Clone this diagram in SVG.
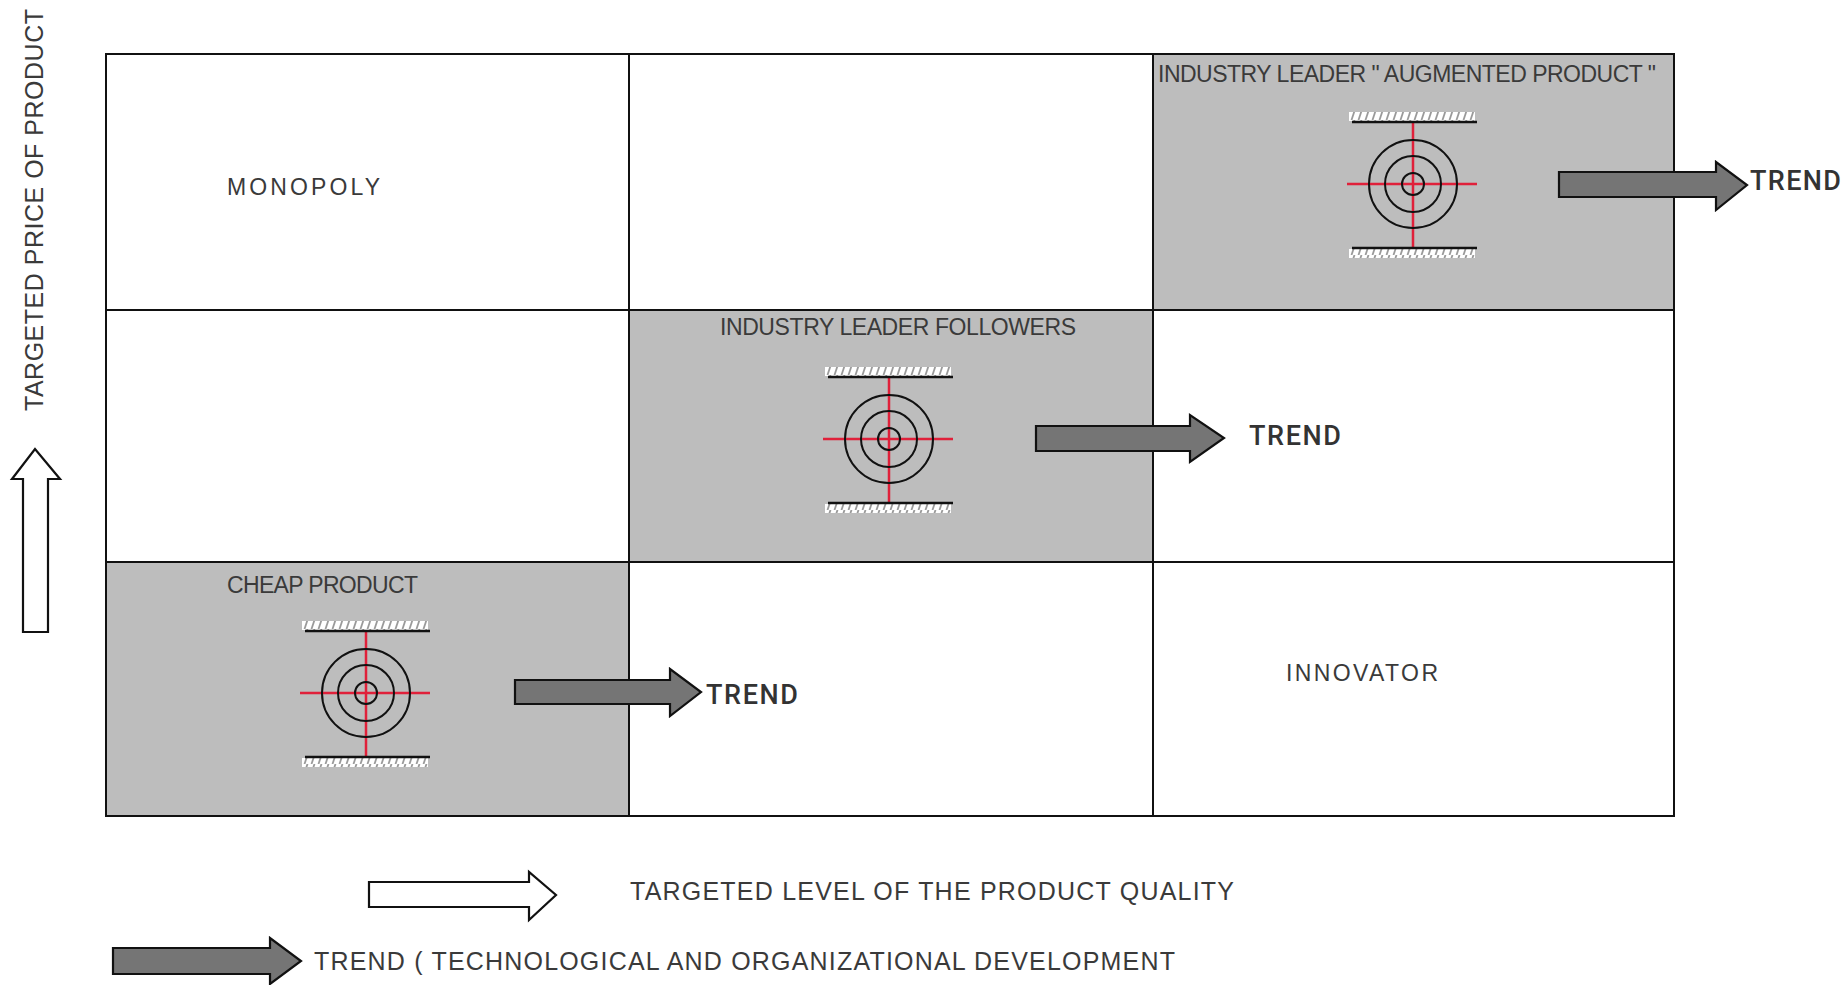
<svg xmlns="http://www.w3.org/2000/svg" xmlns:xlink="http://www.w3.org/1999/xlink" width="1843" height="985" viewBox="0 0 1843 985">
<style>
.cell{fill:#fff;stroke:#111;stroke-width:2}
.shade{fill:#bdbdbd}
.t{font-family:"Liberation Sans",Arial,sans-serif;font-size:23px;fill:#3a3a3a}
.tr{font-family:"Roboto","Liberation Sans",sans-serif;font-size:27px;font-weight:500;fill:#333}
.lg{font-family:"Liberation Sans",Arial,sans-serif;font-size:25px;fill:#3a3a3a}
.ar{stroke:#111;stroke-width:2.2;stroke-linejoin:miter}
.gray{fill:#757575}
.white{fill:#fff}
.ring{fill:none;stroke:#111;stroke-width:2}
.red{stroke:#e0203a;stroke-width:2.5;fill:none}
.bar{stroke:#111;stroke-width:2.5;fill:none}
.hatch{fill:url(#h)}
</style>
<defs>
<pattern id="h" width="7" height="9" patternUnits="userSpaceOnUse">
<rect width="7" height="9" fill="#fff"/>
<path d="M1.5 9L4.5 0" stroke="#999" stroke-width="1.8"/>
</pattern>
<g id="target">
<rect class="hatch" x="-64" y="-71" width="126" height="9"/>
<rect class="hatch" x="-64" y="66" width="126" height="9"/>
<path class="red" d="M0-61V65M-66 1H64"/>
<circle class="ring" cx="0" cy="1" r="44"/>
<circle class="ring" cx="0" cy="1" r="28"/>
<circle class="ring" cx="0" cy="1" r="11"/>
<path class="bar" d="M-61-61H64M-61 65H64"/>
</g>
</defs>
<g id="grid">
<rect id="c00" class="cell" x="106" y="54" width="523" height="256"/>
<rect id="c01" class="cell" x="629" y="54" width="524" height="256"/>
<rect id="c02" class="cell shade" x="1153" y="54" width="521" height="256"/>
<rect id="c10" class="cell" x="106" y="310" width="523" height="252"/>
<rect id="c11" class="cell shade" x="629" y="310" width="524" height="252"/>
<rect id="c12" class="cell" x="1153" y="310" width="521" height="252"/>
<rect id="c20" class="cell shade" x="106" y="562" width="523" height="254"/>
<rect id="c21" class="cell" x="629" y="562" width="524" height="254"/>
<rect id="c22" class="cell" x="1153" y="562" width="521" height="254"/>
</g>
<g id="targets">
<use id="target-leader" xlink:href="#target" href="#target" x="1413" y="183"/>
<use id="target-followers" xlink:href="#target" href="#target" x="889" y="438"/>
<use id="target-cheap" xlink:href="#target" href="#target" x="366" y="692"/>
</g>
<g id="connectors">
<path id="trend1" class="ar gray" d="M1559 172H1716V162L1747 185L1716 210V197H1559Z"/>
<path id="trend2" class="ar gray" d="M1036 426H1190V415L1224 438L1190 462V451H1036Z"/>
<path id="trend3" class="ar gray" d="M515 680H670V669L701 692L670 716V704H515Z"/>
<path id="axis-y" class="ar white" d="M23 632V479H12L35 449L60 479H48V632Z"/>
<path id="axis-x" class="ar white" d="M369 882H529V872L556 895L529 920V907H369Z"/>
<path id="legend-trend" class="ar gray" d="M113 948H270V938L301 961L270 984V974H113Z"/>
</g>
<g id="labels">
<text class="t" x="227" y="195" textLength="153">MONOPOLY</text>
<text class="t" x="1158" y="82" textLength="498">INDUSTRY LEADER " AUGMENTED PRODUCT "</text>
<text class="t" x="720" y="335" textLength="356">INDUSTRY LEADER FOLLOWERS</text>
<text class="t" x="227" y="593" textLength="191">CHEAP PRODUCT</text>
<text class="t" x="1286" y="681" textLength="152">INNOVATOR</text>
<text class="tr" x="1750" y="190" textLength="91">TREND</text>
<text class="tr" x="1249" y="445" textLength="92">TREND</text>
<text class="tr" x="706" y="704" textLength="92">TREND</text>
<text class="lg" x="630" y="900" textLength="604">TARGETED LEVEL OF THE PRODUCT QUALITY</text>
<text class="lg" x="314" y="970" textLength="861">TREND ( TECHNOLOGICAL AND ORGANIZATIONAL DEVELOPMENT</text>
<text class="lg" transform="translate(43 411) rotate(-90)" textLength="402">TARGETED PRICE OF PRODUCT</text>
</g>
</svg>
